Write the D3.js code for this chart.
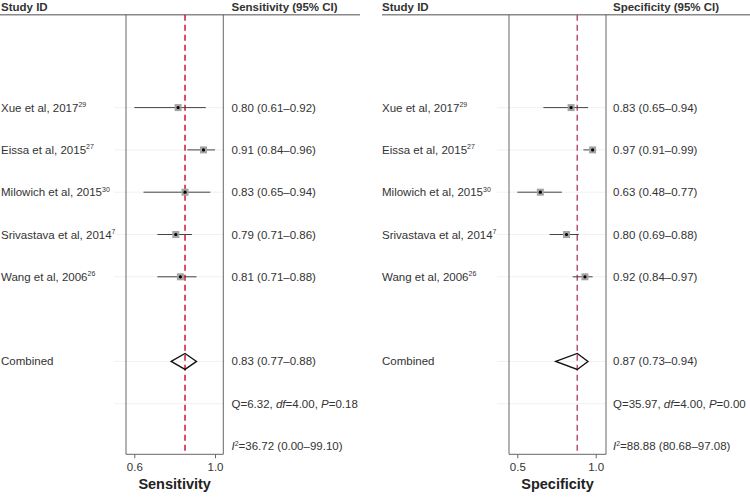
<!DOCTYPE html>
<html><head><meta charset="utf-8">
<script src="https://cdn.jsdelivr.net/npm/d3@7"></script>
<style>
body{margin:0;background:#fff;}
svg{display:block;font-family:"Liberation Sans",Arial,sans-serif;}
</style></head>
<body><svg id="c" width="750" height="497"></svg>
<script>
// ---- data ----
const studies = ["Xue et al, 2017", "Eissa et al, 2015", "Milowich et al, 2015", "Srivastava et al, 2014", "Wang et al, 2006"];
const refs = ["29", "27", "30", "7", "26"];
const sensEst = [0.80, 0.91, 0.83, 0.79, 0.81];
const sensLo  = [0.61, 0.84, 0.65, 0.71, 0.71];
const sensHi  = [0.92, 0.96, 0.94, 0.86, 0.88];
const specEst = [0.83, 0.97, 0.63, 0.80, 0.92];
const specLo  = [0.65, 0.91, 0.48, 0.69, 0.84];
const specHi  = [0.94, 0.99, 0.77, 0.88, 0.97];
const sensPooled = [0.83, 0.77, 0.88];
const specPooled = [0.87, 0.73, 0.94];
const sensQ = ["6.32", "4.00", "0.18"];
const specQ = ["35.97", "4.00", "0.00"];
const sensI2 = ["36.72", "0.00", "99.10"];
const specI2 = ["88.88", "80.68", "97.08"];
const sensTicks = [0.61, 0.96];
const specTicks = [0.48, 0.99];

const svg = d3.select("#c");
const rowY = d3.scaleLinear().domain([0, 10]).range([23, 446]);
const fmt = d3.format(".2f");
const tickFmt = d3.format(".1f");

function panel(o) {
  const g = svg.append("g");
  const x = d3.scaleLinear().domain(o.domain).range(o.range);
  const top = 14.7, bottom = 454.3;
  // header
  g.append("text").attr("x", o.labelX).attr("y", 11).attr("font-size", 11.5)
    .attr("font-weight", "bold").attr("fill", "#333").text("Study ID");
  g.append("text").attr("x", o.valX).attr("y", 11).attr("font-size", 11.5)
    .attr("font-weight", "bold").attr("fill", "#333").text(o.header);
  g.append("line").attr("x1", o.lineX[0]).attr("x2", o.lineX[1]).attr("y1", top).attr("y2", top)
    .attr("stroke", "#8a8a8a").attr("stroke-width", 1.5);
  // faint row lines
  const rows = [2,3,4,5,6,8,9];
  g.selectAll(".grid").data(rows).join("line")
    .attr("x1", o.box[0] - 12).attr("x2", o.box[1])
    .attr("y1", d => rowY(d)).attr("y2", d => rowY(d))
    .attr("stroke", "#eef2f2").attr("stroke-width", 1);
  // box
  g.append("line").attr("x1", o.box[0]).attr("x2", o.box[0]).attr("y1", top).attr("y2", bottom).attr("stroke", "#666");
  g.append("line").attr("x1", o.box[1]).attr("x2", o.box[1]).attr("y1", top).attr("y2", bottom).attr("stroke", "#666");
  g.append("line").attr("x1", o.box[0]).attr("x2", o.box[1]).attr("y1", bottom).attr("y2", bottom).attr("stroke", "#666");
  // axis
  const ax = g.append("g").attr("transform", `translate(0,${bottom})`)
    .call(d3.axisBottom(x).tickValues(o.ticks).tickFormat(tickFmt).tickSize(4).tickPadding(5));
  ax.select(".domain").remove();
  ax.selectAll(".tick line").attr("stroke", "#666");
  ax.selectAll(".tick text").attr("font-size", 11.5).attr("fill", "#333")
    .attr("font-family", "Liberation Sans, Arial, sans-serif");
  g.append("text").attr("x", (o.box[0] + o.box[1]) / 2).attr("y", 489).attr("text-anchor", "middle")
    .attr("font-size", 14.5).attr("font-weight", "bold").attr("fill", "#222").text(o.title);
  // pooled dashed line
  g.append("line").attr("x1", x(o.pooled[0])).attr("x2", x(o.pooled[0]))
    .attr("y1", top).attr("y2", bottom).attr("stroke", o.red).attr("stroke-width", 1.5)
    .attr("stroke-dasharray", "6,4");
  // studies
  const data = studies.map((s, i) => ({s, r: refs[i], e: o.est[i], lo: o.lo[i], hi: o.hi[i], row: i + 2}));
  const sg = g.selectAll(".st").data(data).join("g");
  sg.append("line").attr("x1", d => x(d.lo)).attr("x2", d => x(d.hi))
    .attr("y1", d => rowY(d.row)).attr("y2", d => rowY(d.row)).attr("stroke", "#444").attr("stroke-width", 1);
  sg.append("rect").attr("x", d => x(d.e) - 3.5).attr("y", d => rowY(d.row) - 3.5)
    .attr("width", 7).attr("height", 7).attr("fill", "#a3a3a3");
  sg.append("circle").attr("cx", d => x(d.e)).attr("cy", d => rowY(d.row)).attr("r", 1.6).attr("fill", "#000");
  const lt = sg.append("text").attr("x", o.labelX).attr("y", d => rowY(d.row) + 4)
    .attr("font-size", 11.5).attr("fill", "#333");
  lt.append("tspan").text(d => d.s);
  lt.append("tspan").attr("font-size", 7).attr("dy", -4.5).text(d => d.r);
  sg.append("text").attr("x", o.valX).attr("y", d => rowY(d.row) + 4)
    .attr("font-size", 11.5).attr("fill", "#333")
    .text(d => `${fmt(d.e)} (${fmt(d.lo)}\u2013${fmt(d.hi)})`);
  // combined
  const cy = rowY(8);
  g.append("text").attr("x", o.labelX).attr("y", cy + 4).attr("font-size", 11.5).attr("fill", "#333").text("Combined");
  const p = o.pooled;
  g.append("path").attr("d", `M${x(p[1])},${cy} L${x(p[0])},${cy - 8} L${x(p[2])},${cy} L${x(p[0])},${cy + 8} Z`)
    .attr("fill", "none").attr("stroke", "#111").attr("stroke-width", 1.3);
  g.append("text").attr("x", o.valX).attr("y", cy + 4).attr("font-size", 11.5).attr("fill", "#333")
    .text(`${fmt(p[0])} (${fmt(p[1])}\u2013${fmt(p[2])})`);
  // Q
  const qt = g.append("text").attr("x", o.valX).attr("y", rowY(9) + 4).attr("font-size", 11.5).attr("fill", "#333");
  qt.append("tspan").text(`Q=${o.q[0]}, `);
  qt.append("tspan").attr("font-style", "italic").text("df");
  qt.append("tspan").text(`=${o.q[1]}, `);
  qt.append("tspan").attr("font-style", "italic").text("P");
  qt.append("tspan").text(`=${o.q[2]}`);
  // I2
  const it = g.append("text").attr("x", o.valX).attr("y", rowY(10) + 4).attr("font-size", 11.5).attr("fill", "#333");
  it.append("tspan").attr("font-style", "italic").text("I");
  it.append("tspan").attr("font-size", 7).attr("dy", -4.5).text("2");
  it.append("tspan").attr("dy", 4.5).text(`=${o.i2[0]} (${o.i2[1]}\u2013${o.i2[2]})`);
}

panel({labelX: 1, valX: 231.5, header: "Sensitivity (95% CI)", lineX: [0, 360], box: [126, 223.3],
  domain: sensTicks, range: [134.3, 215], ticks: sensTicks, title: "Sensitivity",
  est: sensEst, lo: sensLo, hi: sensHi, pooled: sensPooled, q: sensQ, i2: sensI2, red: "#d2123c"});
panel({labelX: 382, valX: 613, header: "Specificity (95% CI)", lineX: [382, 750], box: [509, 606],
  domain: specTicks, range: [517.3, 595.7], ticks: specTicks, title: "Specificity",
  est: specEst, lo: specLo, hi: specHi, pooled: specPooled, q: specQ, i2: specI2, red: "#b9506c"});
</script></body></html>
